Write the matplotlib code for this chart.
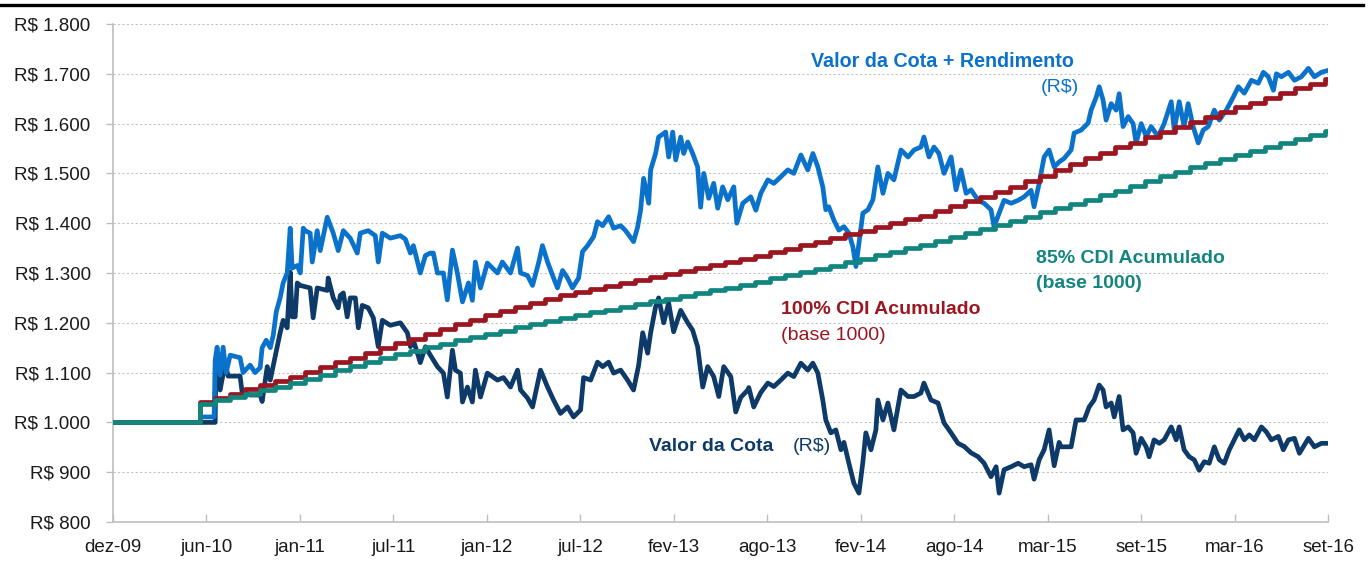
import numpy as np
import matplotlib
matplotlib.use("Agg")
import matplotlib.pyplot as plt
from matplotlib.lines import Line2D

plt.rcParams['font.family'] = ['Liberation Sans', 'DejaVu Sans']

# x axis: months since dez-09 (0) up to set-16 (81)
tick_labels = ['dez-09', 'jun-10', 'jan-11', 'jul-11', 'jan-12', 'jul-12', 'fev-13',
               'ago-13', 'fev-14', 'ago-14', 'mar-15', 'set-15', 'mar-16', 'set-16']
x_end = 81

# Valor da Cota + Rendimento (R$)
rend_m = [0, 5.80, 5.87, 6.74, 6.81, 6.94, 7.14, 7.34, 7.54, 7.81, 8.47, 8.67, 9.14, 9.47,
          9.81, 9.94, 10.21, 10.48, 10.68, 10.88, 11.14, 11.34, 11.61, 11.81, 11.94, 12.28,
          12.48, 12.68, 12.81, 13.14, 13.28, 13.61, 13.81, 14.28, 14.68, 15.01, 15.35, 15.81,
          16.28, 16.48, 17.01, 17.48, 17.68, 17.95, 18.48, 19.15, 19.48, 19.82, 20.02, 20.48,
          20.82, 21.15, 21.35, 21.62, 22.02, 22.28, 22.62, 22.95, 23.29, 23.69, 23.95, 24.15,
          24.49, 24.95, 25.62, 25.95, 26.49, 26.96, 27.16, 27.62, 27.96, 28.36, 28.62, 28.96,
          29.36, 29.62, 29.96, 30.29, 30.62, 31.03, 31.29, 31.63, 32.03, 32.29, 32.63, 33.03,
          33.36, 33.83, 34.16, 34.69, 34.96, 35.16, 35.36, 35.70, 35.83, 36.16, 36.36, 36.83,
          37.03, 37.30, 37.50, 37.83, 38.03, 38.30, 38.63, 38.96, 39.16, 39.37, 39.70, 40.03,
          40.30, 40.63, 40.97, 41.37, 41.57, 41.97, 42.50, 42.84, 43.17, 43.64, 44.04, 44.50,
          44.97, 45.37, 45.84, 46.30, 46.64, 46.97, 47.30, 47.50, 47.70, 48.04, 48.37, 48.71,
          49.04, 49.31, 49.51, 49.71, 49.97, 50.31, 50.64, 50.97, 51.31, 51.64, 52.04, 52.51,
          52.98, 53.38, 53.84, 54.04, 54.38, 54.71, 55.04, 55.38, 55.85, 56.18, 56.51, 56.85,
          57.18, 57.65, 58.05, 58.51, 58.71, 59.05, 59.38, 59.85, 60.32, 60.72, 61.18, 61.38,
          61.72, 62.05, 62.38, 62.72, 63.05, 63.38, 63.85, 64.05, 64.52, 64.98, 65.18, 65.52,
          65.72, 65.98, 66.18, 66.52, 66.85, 67.05, 67.31, 67.65, 67.98, 68.18, 68.52, 68.85,
          69.18, 69.65, 70.05, 70.52, 70.72, 71.05, 71.38, 71.65, 71.98, 72.32, 72.65, 72.99,
          73.39, 73.72, 74.19, 74.65, 74.99, 75.39, 75.86, 76.32, 76.66, 76.99, 77.33, 77.53,
          77.86, 78.33, 78.73, 79.19, 79.66, 80.06, 80.53, 81.0]
rend_v = [1000, 1000, 1011, 1011, 1125, 1151, 1095, 1151, 1100, 1135, 1130, 1100, 1115, 1100,
          1110, 1150, 1165, 1150, 1175, 1222, 1250, 1280, 1300, 1390, 1310, 1315,
          1300, 1390, 1385, 1380, 1322, 1385, 1345, 1412, 1380, 1345, 1385, 1370,
          1340, 1380, 1385, 1375, 1322, 1380, 1370, 1375, 1368, 1340, 1355, 1300,
          1335, 1340, 1340, 1300, 1300, 1246, 1346, 1300, 1242, 1280, 1245, 1322,
          1270, 1320, 1300, 1322, 1300, 1350, 1300, 1295, 1275, 1320, 1355, 1322,
          1290, 1270, 1305, 1290, 1270, 1290, 1343, 1355, 1373, 1403, 1395, 1413,
          1390, 1395, 1385, 1363, 1392, 1426, 1490, 1440, 1507, 1540, 1573, 1583,
          1533, 1583, 1527, 1573, 1540, 1563, 1540, 1513, 1432, 1500, 1450, 1480,
          1430, 1473, 1447, 1473, 1400, 1440, 1453, 1426, 1460, 1487, 1480, 1493,
          1507, 1500, 1537, 1507, 1540, 1513, 1473, 1427, 1433, 1406, 1386, 1393,
          1380, 1352, 1313, 1360, 1420, 1427, 1447, 1513, 1460, 1500, 1487, 1547,
          1533, 1547, 1553, 1573, 1533, 1553, 1540, 1500, 1533, 1467, 1507, 1460,
          1467, 1446, 1440, 1427, 1393, 1420, 1446, 1440, 1446, 1453, 1466, 1433,
          1480, 1533, 1547, 1513, 1523, 1530, 1547, 1581, 1587, 1601, 1627, 1653,
          1674, 1647, 1607, 1640, 1627, 1660, 1594, 1614, 1600, 1561, 1600, 1574,
          1594, 1574, 1600, 1644, 1587, 1644, 1594, 1640, 1594, 1561, 1587, 1594,
          1627, 1607, 1627, 1653, 1674, 1661, 1687, 1681, 1703, 1694, 1667, 1700,
          1694, 1703, 1687, 1694, 1711, 1694, 1703, 1707]

# Valor da Cota (R$)
cota_m = [0, 6.81, 6.85, 6.94, 7.14, 7.48, 7.67, 8.47, 8.61, 9.14, 9.81, 9.94, 10.28, 10.48,
          10.81, 11.14, 11.34, 11.61, 11.81, 11.94, 12.14, 12.28, 12.48, 13.14, 13.34, 13.61,
          14.28, 14.34, 14.68, 15.01, 15.15, 15.35, 15.61, 15.81, 16.15, 16.35, 16.61, 17.01,
          17.35, 17.68, 17.95, 18.48, 19.15, 19.62, 19.82, 20.02, 20.48, 20.82, 21.15, 21.62,
          22.02, 22.28, 22.62, 22.82, 23.15, 23.29, 23.62, 23.95, 24.15, 24.49, 24.95, 25.62,
          26.02, 26.49, 26.96, 27.16, 27.62, 27.96, 28.49, 28.96, 29.36, 29.82, 30.29, 30.69,
          31.16, 31.36, 31.83, 32.29, 32.63, 33.03, 33.36, 33.83, 34.29, 34.69, 35.03, 35.30,
          35.63, 35.83, 36.16, 36.36, 36.70, 37.03, 37.36, 37.83, 38.30, 38.63, 38.96, 39.30,
          39.63, 40.03, 40.37, 40.70, 41.17, 41.50, 41.83, 42.30, 42.37, 42.70, 42.84, 43.17,
          43.64, 44.04, 44.50, 44.97, 45.37, 45.84, 46.30, 46.64, 46.97, 47.30, 47.50, 47.84,
          48.17, 48.51, 48.71, 49.04, 49.37, 49.71, 49.97, 50.17, 50.51, 50.84, 50.97, 51.31,
          51.64, 52.04, 52.51, 52.98, 53.38, 53.84, 54.04, 54.51, 54.98, 55.38, 55.85, 56.31,
          56.71, 57.18, 57.65, 58.05, 58.51, 58.85, 59.05, 59.38, 59.85, 60.32, 60.72, 61.18,
          61.38, 61.72, 62.05, 62.38, 62.72, 63.05, 63.18, 63.85, 64.18, 64.72, 65.05, 65.38,
          65.72, 65.98, 66.18, 66.52, 66.72, 67.05, 67.31, 67.65, 67.98, 68.18, 68.52, 68.85,
          69.05, 69.38, 69.72, 70.05, 70.52, 70.85, 71.05, 71.38, 71.72, 72.05, 72.38, 72.72,
          73.05, 73.39, 73.72, 74.05, 74.39, 74.72, 75.05, 75.39, 75.72, 76.06, 76.53, 76.86,
          77.19, 77.66, 77.99, 78.33, 78.73, 79.06, 79.66, 80.06, 80.53, 81.0]
cota_v = [1000, 1000, 1085, 1121, 1065, 1120, 1093, 1093, 1060, 1055, 1055, 1042, 1112, 1085,
          1132, 1180, 1205, 1190, 1302, 1212, 1212, 1280, 1275, 1270, 1210, 1270,
          1265, 1290, 1250, 1230, 1255, 1260, 1212, 1250, 1250, 1190, 1235, 1230,
          1210, 1152, 1205, 1195, 1200, 1180, 1152, 1165, 1120, 1152, 1135, 1112,
          1099, 1051, 1145, 1105, 1099, 1041, 1071, 1041, 1105, 1051, 1099, 1085,
          1090, 1071, 1105, 1065, 1049, 1031, 1105, 1071, 1045, 1018, 1031, 1011,
          1025, 1090, 1085, 1121, 1112, 1121, 1099, 1105, 1085, 1065, 1115, 1180,
          1139, 1180, 1232, 1250, 1200, 1240, 1182, 1225, 1200, 1185, 1152, 1071,
          1112, 1092, 1052, 1112, 1092, 1021, 1050, 1065, 1070, 1031, 1040, 1060,
          1079, 1072, 1085, 1099, 1092, 1119, 1105, 1119, 1099, 1045, 1005, 979,
          985, 945, 960, 918, 878, 858, 920, 979, 945, 985, 1045, 1005,
          1039, 985, 1065, 1052, 1052, 1059, 1079, 1045, 1039, 999, 979, 958,
          952, 939, 931, 918, 891, 911, 858, 905, 911, 918, 911, 915,
          886, 925, 945, 985, 913, 960, 951, 951, 1005, 1005, 1031, 1045,
          1075, 1065, 1031, 1039, 1011, 1052, 985, 991, 979, 938, 968, 951,
          931, 965, 958, 965, 991, 965, 991, 945, 931, 925, 904, 921,
          918, 951, 925, 918, 945, 965, 985, 965, 975, 965, 991, 981,
          965, 972, 945, 965, 968, 938, 968, 951, 958, 958]

# CDI acumulado (base 1000), monthly values from jun-10
cdi_start = 5.8
cdi100 = [1041, 1050, 1058, 1067, 1075, 1084, 1092, 1102, 1111, 1121, 1130, 1140, 1149,
          1159, 1168, 1178, 1187, 1197, 1206, 1215, 1223, 1231, 1239, 1247, 1255,
          1262, 1268, 1274, 1280, 1286, 1292, 1298, 1304, 1310, 1316, 1322, 1328,
          1335, 1342, 1349, 1356, 1363, 1370, 1378, 1385, 1393, 1400, 1408, 1415,
          1425, 1434, 1444, 1453, 1463, 1472, 1484, 1495, 1507, 1518, 1530, 1541,
          1552, 1562, 1573, 1583, 1594, 1604, 1614, 1623, 1633, 1642, 1652, 1661,
          1671, 1680, 1690]
cdi85 = [1037, 1044, 1051, 1058, 1065, 1072, 1079, 1088, 1096, 1105, 1113, 1122, 1130,
         1137, 1144, 1151, 1158, 1165, 1172, 1178, 1184, 1191, 1197, 1203, 1210,
         1215, 1221, 1226, 1232, 1237, 1243, 1248, 1254, 1259, 1265, 1270, 1276,
         1282, 1289, 1295, 1302, 1308, 1315, 1322, 1329, 1336, 1343, 1350, 1357,
         1365, 1373, 1381, 1389, 1397, 1405, 1413, 1422, 1430, 1439, 1447, 1456,
         1465, 1475, 1484, 1494, 1503, 1513, 1521, 1529, 1537, 1545, 1553, 1561,
         1569, 1577, 1585]

c_rend = '#0b72cc'
c_cota = '#0d3a68'
c_cdi100 = '#9b1620'
c_cdi85 = '#13857f'
c_grid = '#c4c4c4'
lw = 3.4

fig = plt.figure(figsize=(13.71, 5.63), dpi=100)
ax = fig.add_axes([0.0824, 0.0728, 0.8866, 0.8846])

cdi_x = np.concatenate([[0], cdi_start + np.arange(len(cdi100)), [x_end]])
y100 = np.concatenate([[1000], cdi100, [cdi100[-1]]])
y85 = np.concatenate([[1000], cdi85, [cdi85[-1]]])

ax.plot(cota_m, cota_v, color=c_cota, lw=lw, solid_joinstyle='round', zorder=3)
ax.plot(rend_m, rend_v, color=c_rend, lw=lw, solid_joinstyle='round', zorder=4)
ax.step(cdi_x, y100, where='post', color=c_cdi100, lw=lw, zorder=5)
ax.step(cdi_x, y85, where='post', color=c_cdi85, lw=lw, zorder=6)

ax.set_xlim(0, x_end)
ax.set_ylim(800, 1800)
ax.set_xticks(np.linspace(0, x_end, len(tick_labels)))
ax.set_xticklabels(tick_labels)
yt = np.arange(800, 1801, 100)
ax.set_yticks(yt)
ax.set_yticklabels(['R$ ' + f'{v:,}'.replace(',', '.') for v in yt])

ax.yaxis.grid(True, color=c_grid, linestyle=(0, (2, 2)), lw=0.8)
ax.set_axisbelow(True)
for s in ('top', 'right'):
    ax.spines[s].set_visible(False)
for s in ('left', 'bottom'):
    ax.spines[s].set_color('#bfbfbf')
    ax.spines[s].set_linewidth(1.2)
ax.tick_params(axis='y', direction='out', length=5, width=1, color='#bfbfbf',
               labelsize=13.5, pad=11, labelcolor='#1a1a1a')
ax.tick_params(axis='x', direction='in', length=6, width=1, color='#bfbfbf',
               labelsize=13.5, pad=12, labelcolor='#1a1a1a')

# annotations
ax.text(46.5, 1724, 'Valor da Cota + Rendimento', color=c_rend, fontsize=14.2,
        fontweight='bold', va='center', ha='left')
ax.text(64.4, 1673, '(R$)', color=c_rend, fontsize=14, va='center', ha='right')
ax.text(61.5, 1330, '85% CDI Acumulado', color=c_cdi85, fontsize=14,
        fontweight='bold', va='center', ha='left')
ax.text(61.5, 1278, '(base 1000)', color=c_cdi85, fontsize=14,
        fontweight='bold', va='center', ha='left')
ax.text(44.5, 1226, '100% CDI Acumulado', color=c_cdi100, fontsize=14,
        fontweight='bold', va='center', ha='left')
ax.text(44.5, 1175, '(base 1000)', color=c_cdi100, fontsize=14,
        va='center', ha='left')
ax.text(35.7, 951, 'Valor da Cota', color=c_cota, fontsize=14,
        fontweight='bold', va='center', ha='left')
ax.text(45.3, 951, '(R$)', color=c_cota, fontsize=14, va='center', ha='left')

# black rule at the top of the figure
fig.add_artist(Line2D([0, 0.994], [1 - 4.5 / 563] * 2, color='black', lw=2.4,
                      transform=fig.transFigure))

fig.savefig('out.png', dpi=100)
